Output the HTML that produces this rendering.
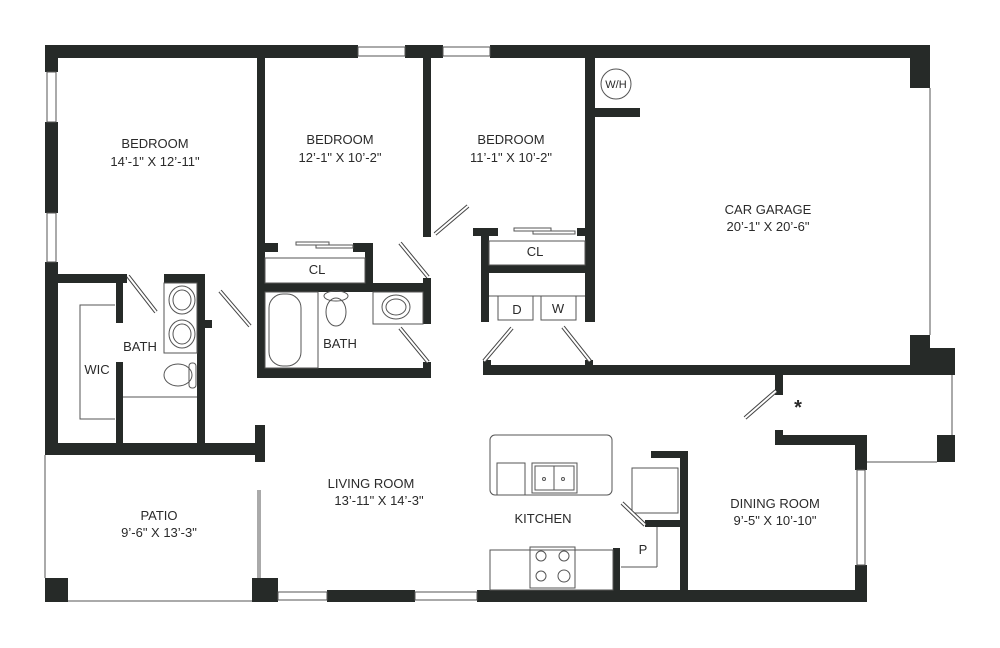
<!DOCTYPE html>
<html><head><meta charset="utf-8"><style>
html,body{margin:0;padding:0;background:#fff;}
svg{display:block;}
text{font-family:"Liberation Sans",sans-serif;font-size:13px;fill:#2a2a2a;text-anchor:middle;}
</style></head><body>
<svg width="1000" height="648" viewBox="0 0 1000 648" xmlns="http://www.w3.org/2000/svg">
<g fill="#262a28">
<!-- top wall -->
<rect x="45" y="45" width="313" height="13"/>
<rect x="405" y="45" width="38" height="13"/>
<rect x="490" y="45" width="438" height="13"/>
<rect x="910" y="45" width="20" height="43"/>
<!-- left wall -->
<rect x="45" y="45" width="13" height="27"/>
<rect x="45" y="122" width="13" height="91"/>
<rect x="45" y="262" width="13" height="193"/>
<!-- master bath -->
<rect x="45" y="274" width="82" height="9"/>
<rect x="116" y="283" width="7" height="40"/>
<rect x="116" y="362" width="7" height="84"/>
<rect x="164" y="274" width="41" height="9"/>
<rect x="197" y="274" width="8" height="172"/>
<rect x="205" y="320" width="7" height="8"/>
<rect x="45" y="443" width="217" height="12"/>
<rect x="255" y="425" width="10" height="37"/>
<!-- bedroom2 walls -->
<rect x="257" y="58" width="8" height="320"/>
<rect x="265" y="243" width="13" height="9"/>
<rect x="353" y="243" width="20" height="9"/>
<rect x="365" y="243" width="8" height="45"/>
<rect x="265" y="283" width="166" height="9"/>
<rect x="423" y="278" width="8" height="46"/>
<rect x="423" y="362" width="8" height="16"/>
<rect x="257" y="368" width="174" height="10"/>
<rect x="423" y="58" width="8" height="179"/>
<!-- bedroom3 closet/laundry -->
<rect x="473" y="228" width="25" height="8"/>
<rect x="481" y="228" width="8" height="94"/>
<rect x="577" y="228" width="10" height="8"/>
<rect x="489" y="265" width="96" height="8"/>
<rect x="585" y="45" width="10" height="277"/>
<rect x="595" y="108" width="45" height="9"/>
<!-- garage bottom -->
<rect x="483" y="365" width="447" height="10"/>
<rect x="483" y="360" width="8" height="15"/>
<rect x="585" y="360" width="8" height="15"/>
<rect x="910" y="335" width="20" height="40"/>
<rect x="930" y="348" width="25" height="27"/>
<rect x="775" y="375" width="8" height="20"/>
<!-- dining -->
<rect x="775" y="430" width="8" height="15"/>
<rect x="775" y="435" width="92" height="10"/>
<rect x="855" y="435" width="12" height="35"/>
<rect x="855" y="565" width="12" height="37"/>
<rect x="937" y="435" width="18" height="27"/>
<!-- kitchen -->
<rect x="651" y="451" width="37" height="7"/>
<rect x="680" y="451" width="8" height="145"/>
<rect x="645" y="520" width="43" height="7"/>
<rect x="613" y="548" width="7" height="45"/>
<!-- bottom -->
<rect x="327" y="590" width="88" height="12"/>
<rect x="477" y="590" width="390" height="12"/>
<rect x="45" y="578" width="23" height="24"/>
<rect x="252" y="578" width="26" height="24"/>
</g>
<g fill="none" stroke="#555" stroke-width="1">
<!-- windows -->
<rect x="358" y="47" width="47" height="9"/>
<rect x="443" y="47" width="47" height="9"/>
<rect x="47" y="72" width="9" height="50"/>
<rect x="47" y="213" width="9" height="49"/>
<rect x="278" y="592" width="49" height="8"/>
<rect x="415" y="592" width="62" height="8"/>
<rect x="857" y="470" width="8" height="95"/>
<line x1="930" y1="88" x2="930" y2="335"/>
<line x1="952" y1="375" x2="952" y2="435"/>
<line x1="867" y1="462" x2="937" y2="462"/>
<!-- patio -->
<line x1="45" y1="455" x2="45" y2="578"/>
<line x1="68" y1="601" x2="252" y2="601"/>
<line x1="258" y1="490" x2="258" y2="578"/>
<line x1="260" y1="490" x2="260" y2="578"/>
<!-- closets -->
<rect x="265" y="258" width="100" height="25"/>
<rect x="489" y="241" width="96" height="24"/>
<line x1="489" y1="296" x2="585" y2="296"/>
<rect x="498" y="296" width="35" height="24"/>
<rect x="541" y="296" width="35" height="24"/>
<rect x="296" y="242" width="33" height="3"/>
<rect x="316" y="245" width="37" height="3"/>
<rect x="514" y="228" width="37" height="3"/>
<rect x="533" y="231" width="42" height="3"/>
<!-- WIC -->
<polyline points="115,305 80,305 80,419 115,419"/>
<line x1="123" y1="397" x2="197" y2="397"/>
<rect x="164" y="283" width="33" height="70"/>
<ellipse cx="182" cy="300" rx="13" ry="14"/><ellipse cx="182" cy="300" rx="9" ry="10"/>
<ellipse cx="182" cy="334" rx="13" ry="14"/><ellipse cx="182" cy="334" rx="9" ry="10"/>
<ellipse cx="178" cy="375" rx="14" ry="11"/><rect x="189" y="363" width="7" height="25" rx="3"/>
<!-- bath2 -->
<rect x="265" y="292" width="53" height="76"/>
<rect x="269" y="294" width="32" height="72" rx="14"/>
<ellipse cx="336" cy="296" rx="12" ry="5"/><ellipse cx="336" cy="312" rx="10" ry="14"/>
<rect x="373" y="292" width="50" height="32"/>
<ellipse cx="396" cy="307" rx="14" ry="12"/><ellipse cx="396" cy="307" rx="10" ry="8"/>
<!-- W/H -->
<circle cx="616" cy="84" r="15"/>
<!-- kitchen -->
<rect x="490" y="435" width="122" height="60" rx="5"/>
<rect x="497" y="463" width="28" height="32"/>
<rect x="532" y="463" width="45" height="30"/>
<rect x="535" y="466" width="39" height="24"/>
<line x1="554" y1="466" x2="554" y2="490"/>
<circle cx="544" cy="479" r="1.5"/><circle cx="563" cy="479" r="1.5"/>
<rect x="632" y="468" width="46" height="45"/>
<line x1="657" y1="527" x2="657" y2="567"/>
<line x1="621" y1="567" x2="657" y2="567"/>
<rect x="490" y="550" width="123" height="40"/>
<rect x="530" y="547" width="45" height="41"/>
<circle cx="541" cy="556" r="5"/><circle cx="564" cy="556" r="5"/>
<circle cx="541" cy="576" r="5"/><circle cx="564" cy="576" r="6"/>
</g>
<!-- door swings -->
<g stroke="#444" stroke-width="4" fill="none"><g>
<line x1="128" y1="276" x2="156" y2="312"/>
<line x1="220" y1="291" x2="250" y2="326"/>
<line x1="400" y1="243" x2="428" y2="277"/>
<line x1="400" y1="328" x2="428" y2="362"/>
<line x1="435" y1="234" x2="468" y2="206"/>
<line x1="484" y1="361" x2="512" y2="328"/>
<line x1="563" y1="327" x2="590" y2="361"/>
<line x1="776" y1="391" x2="745" y2="418"/>
<line x1="622" y1="503" x2="645" y2="525"/>
</g></g>
<g stroke="#fff" stroke-width="2" fill="none">
<line x1="128" y1="276" x2="156" y2="312"/>
<line x1="220" y1="291" x2="250" y2="326"/>
<line x1="400" y1="243" x2="428" y2="277"/>
<line x1="400" y1="328" x2="428" y2="362"/>
<line x1="435" y1="234" x2="468" y2="206"/>
<line x1="484" y1="361" x2="512" y2="328"/>
<line x1="563" y1="327" x2="590" y2="361"/>
<line x1="776" y1="391" x2="745" y2="418"/>
<line x1="622" y1="503" x2="645" y2="525"/>
</g>
<text x="155" y="148">BEDROOM</text><text x="155" y="166">14’-1" X 12’-11"</text>
<text x="340" y="144">BEDROOM</text><text x="340" y="162">12’-1" X 10’-2"</text>
<text x="511" y="144">BEDROOM</text><text x="511" y="162">11’-1" X 10’-2"</text>
<text x="768" y="214">CAR GARAGE</text><text x="768" y="231">20’-1" X 20’-6"</text>
<text x="317" y="274">CL</text>
<text x="535" y="256">CL</text>
<text x="340" y="348">BATH</text>
<text x="140" y="351">BATH</text>
<text x="97" y="374">WIC</text>
<text x="517" y="314">D</text><text x="558" y="313">W</text>
<text x="616" y="88" style="font-size:11px">W/H</text>
<text x="798" y="414" style="font-size:20px;font-weight:bold">*</text>
<text x="371" y="488">LIVING ROOM</text><text x="379" y="505">13’-11" X 14’-3"</text>
<text x="159" y="520">PATIO</text><text x="159" y="537">9’-6" X 13’-3"</text>
<text x="543" y="523">KITCHEN</text>
<text x="643" y="554">P</text>
<text x="775" y="508">DINING ROOM</text><text x="775" y="525">9’-5" X 10’-10"</text>
</svg>
</body></html>
